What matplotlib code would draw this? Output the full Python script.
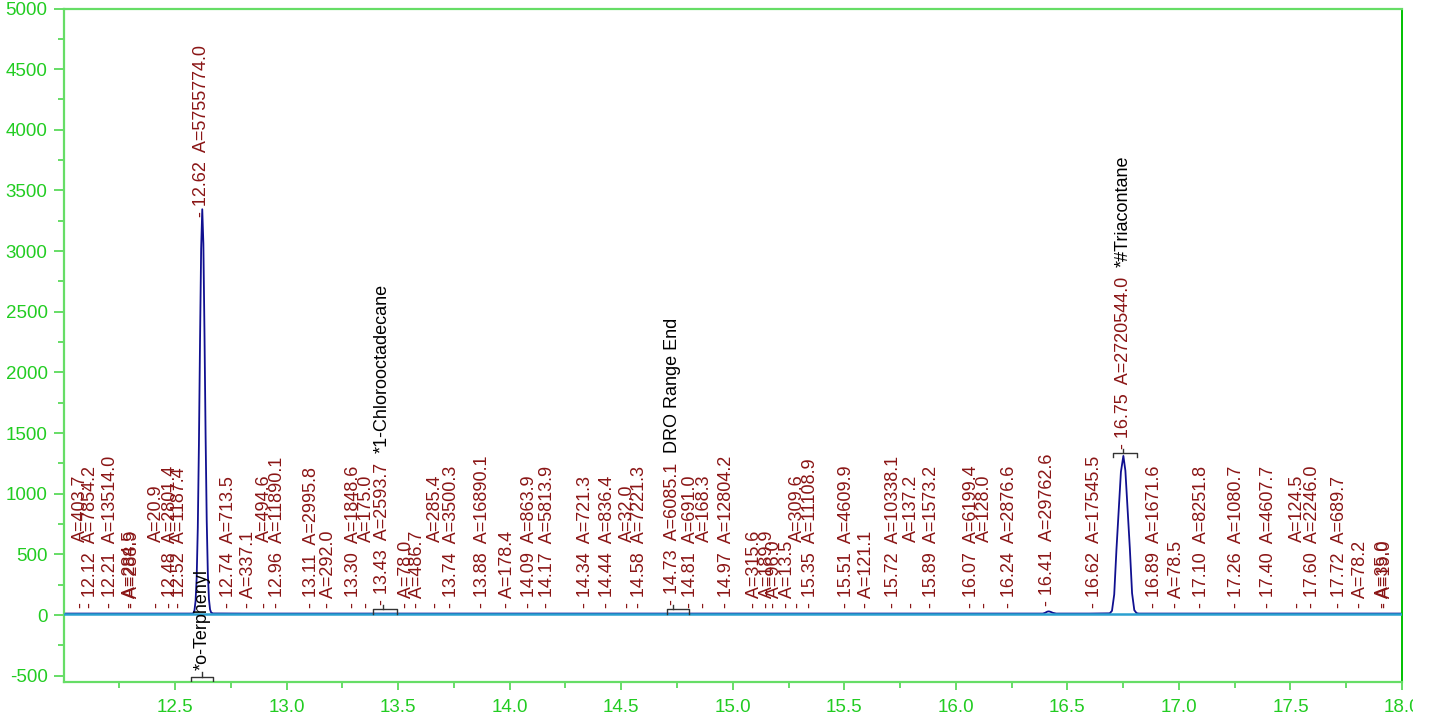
import numpy as np
import matplotlib.pyplot as plt
from matplotlib.transforms import Bbox, TransformedBbox

plt.rcParams['font.family'] = ['Liberation Sans', 'DejaVu Sans']
plt.rcParams['axes.unicode_minus'] = False

# detector trace (min, counts)
trace_t = [12.00, 12.10, 12.30, 12.45, 12.50, 12.575,
           12.582, 12.587, 12.592, 12.597, 12.602, 12.607, 12.612, 12.617, 12.622,
           12.627, 12.632, 12.637, 12.642, 12.647, 12.652, 12.657, 12.662, 12.670,
           12.80, 13.20, 13.60, 14.10, 14.50, 15.00, 15.50, 16.00, 16.30,
           16.39, 16.40, 16.41, 16.417, 16.425, 16.435, 16.45,
           16.60, 16.69, 16.70, 16.71, 16.72, 16.73, 16.74, 16.751,
           16.76, 16.77, 16.78, 16.79, 16.80, 16.81, 16.82,
           17.00, 17.50, 18.00]
trace_y = [12, 12, 12, 12, 12, 12,
           14, 38, 115, 310, 720, 1400, 2260, 3020, 3345,
           3060, 2320, 1470, 780, 345, 130, 45, 20, 13,
           12, 12, 12, 12, 12, 12, 12, 12, 12,
           12, 18, 28, 30, 26, 18, 12,
           12, 14, 35, 170, 540, 860, 1180, 1312,
           1190, 870, 550, 180, 40, 16, 12,
           12, 12, 12]
baseline_t = [12.0, 18.0]
baseline_y = [12, 12]

# integrated peaks: retention time, area, label layout
peak_rt = [12.078, 12.12, 12.21, 12.302, 12.311, 12.415, 12.48, 12.52, 12.62,
           12.74, 12.83, 12.90, 12.96, 13.11, 13.19, 13.30, 13.36, 13.43,
           13.537, 13.585, 13.668, 13.74, 13.88, 13.989, 14.09, 14.17, 14.34,
           14.44, 14.528, 14.58, 14.73, 14.81, 14.871, 14.97, 15.096, 15.156,
           15.185, 15.245, 15.29, 15.35, 15.51, 15.601, 15.72, 15.80, 15.89,
           16.07, 16.127, 16.24, 16.41, 16.62, 16.75, 16.89, 16.987, 17.10,
           17.26, 17.40, 17.533, 17.60, 17.72, 17.814, 17.915, 17.925]
peak_area = [403.7, 7854.2, 13514.0, 284.5, 288.9, 20.9, 2801.4, 1187.4, 5755774.0,
             713.5, 337.1, 494.6, 11890.1, 2995.8, 292.0, 1848.6, 175.0, 2593.7,
             78.0, 486.7, 285.4, 3500.3, 16890.1, 178.4, 863.9, 5813.9, 721.3,
             836.4, 32.0, 7221.3, 6085.1, 691.0, 168.3, 12804.2, 315.6, 189.9,
             96.0, 13.5, 309.6, 11108.9, 4609.9, 121.1, 10338.1, 137.2, 1573.2,
             6199.4, 128.0, 2876.6, 29762.6, 17545.5, 2720544.0, 1671.6, 78.5, 8251.8,
             1080.7, 4607.7, 124.5, 2246.0, 689.7, 78.2, 35.0, 19.0]
peak_mode = ['high', 'full', 'full', 'low', 'low', 'high', 'full', 'full', 'full',
             'full', 'low', 'high', 'full', 'full', 'low', 'full', 'high', 'full',
             'low', 'low', 'high', 'full', 'full', 'low', 'full', 'full', 'full',
             'full', 'high', 'full', 'full', 'full', 'high', 'full', 'low', 'low',
             'low', 'low', 'high', 'full', 'full', 'low', 'full', 'high', 'full',
             'full', 'high', 'full', 'full', 'full', 'full', 'full', 'low', 'full',
             'full', 'full', 'high', 'full', 'full', 'low', 'low', 'low']

compound_names = ['*o-Terphenyl', '*1-Chlorooctadecane', 'DRO Range End', '*#Triacontane']
compound_rt = [12.62, 13.43, 14.73, 16.75]
compound_start = [12.573, 13.389, 14.704, 16.703]
compound_end = [12.672, 13.497, 14.803, 16.811]
compound_side = ['below', 'above', 'above', 'above']

green = '#22cc22'
axis_green = '#66dd66'
red = '#8a1515'
fs = 13

fig = plt.figure(figsize=(14.29, 7.21), dpi=100)
ax = fig.add_axes([63.5 / 1429, 1 - 681.5 / 721, (1402 - 63.5) / 1429, (681.5 - 8.5) / 721])
ax.set_xlim(12.0, 18.0)
ax.set_ylim(-548, 5000)

ax.plot(trace_t, trace_y, color='#101090', lw=1.3, zorder=2)
ax.plot(baseline_t, baseline_y, color='#2aa0d0', lw=1.8, zorder=3)

# axis styling
for side in ['left', 'bottom', 'top']:
    ax.spines[side].set_color(axis_green)
    ax.spines[side].set_linewidth(1.6)
ax.spines['right'].set_color('#00c000')
ax.spines['right'].set_linewidth(1.4)

xt = np.arange(12.5, 18.01, 0.5)
ax.set_xticks(xt)
ax.set_xticklabels([f"{v:.1f}" for v in xt])
ax.set_xticks(np.arange(12.25, 18.0, 0.5), minor=True)
yt = np.arange(-500, 5001, 500)
ax.set_yticks(yt)
ax.set_yticklabels([str(v) for v in yt])
ax.set_yticks(np.arange(-250, 5000, 500), minor=True)
ax.tick_params(axis='both', which='both', direction='out', color=axis_green,
               labelcolor=green, labelsize=13.5, width=1.4)
ax.tick_params(axis='x', which='major', length=5.5, pad=7)
ax.tick_params(axis='x', which='minor', length=4)
ax.tick_params(axis='y', which='major', length=7.5, pad=4)
ax.tick_params(axis='y', which='minor', length=4)

# last x label is cut by the plotting area in the original
clip = TransformedBbox(Bbox([[0, 0], [1413 / 1429, 1]]), fig.transFigure)
ax.xaxis.get_major_ticks()[-1].label1.set_clip_box(clip)

# peak labels
label_text = {}
gap = 3.67 * fs
for rt, area, mode in zip(peak_rt, peak_area, peak_mode):
    y = np.interp(rt, trace_t, trace_y)
    off = 6 if rt in compound_rt else 4
    kw = dict(xy=(rt, y), textcoords='offset points', rotation=90, ha='center',
              va='bottom', color=red, fontsize=fs, zorder=5)
    if mode == 'full':
        t = ax.annotate(f"- {rt:.2f}  A={area:.1f}", xytext=(0, off), **kw)
    elif mode == 'low':
        t = ax.annotate(f"- A={area:.1f}", xytext=(0, off), **kw)
    else:
        ax.annotate("-", xytext=(0, off), **kw)
        t = ax.annotate(f"A={area:.1f}", xytext=(0, off + gap), **kw)
    label_text[rt] = t

# compound brackets and names
du = (5000 + 548) / 673.0  # data units per pixel
ybot = ax.get_ylim()[0]
for name, rt, t0, t1, side in zip(compound_names, compound_rt, compound_start,
                                  compound_end, compound_side):
    if side == 'below':
        yb = ybot + 5 * du
        ax.plot([t0, t0, t1, t1], [ybot, yb, yb, ybot], color='#333333', lw=1, zorder=4)
        ax.plot([rt, rt], [yb, yb + 5 * du], color='#333333', lw=1, zorder=4)
        ax.annotate(name, xy=(rt, yb + 5 * du), xytext=(0, 1), textcoords='offset points',
                    rotation=90, ha='center', va='bottom', color='black', fontsize=fs, zorder=5)
    else:
        y = np.interp(rt, trace_t, trace_y)
        yb = y + 4.5 * du
        ax.plot([t0, t0, t1, t1], [y, yb, yb, y], color='#333333', lw=1, zorder=4)
        ax.plot([rt, rt], [yb, yb + 4 * du], color='#333333', lw=1, zorder=4)
        ax.annotate(name, xy=(0.5, 1), xycoords=label_text[rt], xytext=(0, 7),
                    textcoords='offset points', rotation=90, ha='center', va='bottom',
                    color='black', fontsize=fs, zorder=5)

fig.savefig('out.png', dpi=100)
